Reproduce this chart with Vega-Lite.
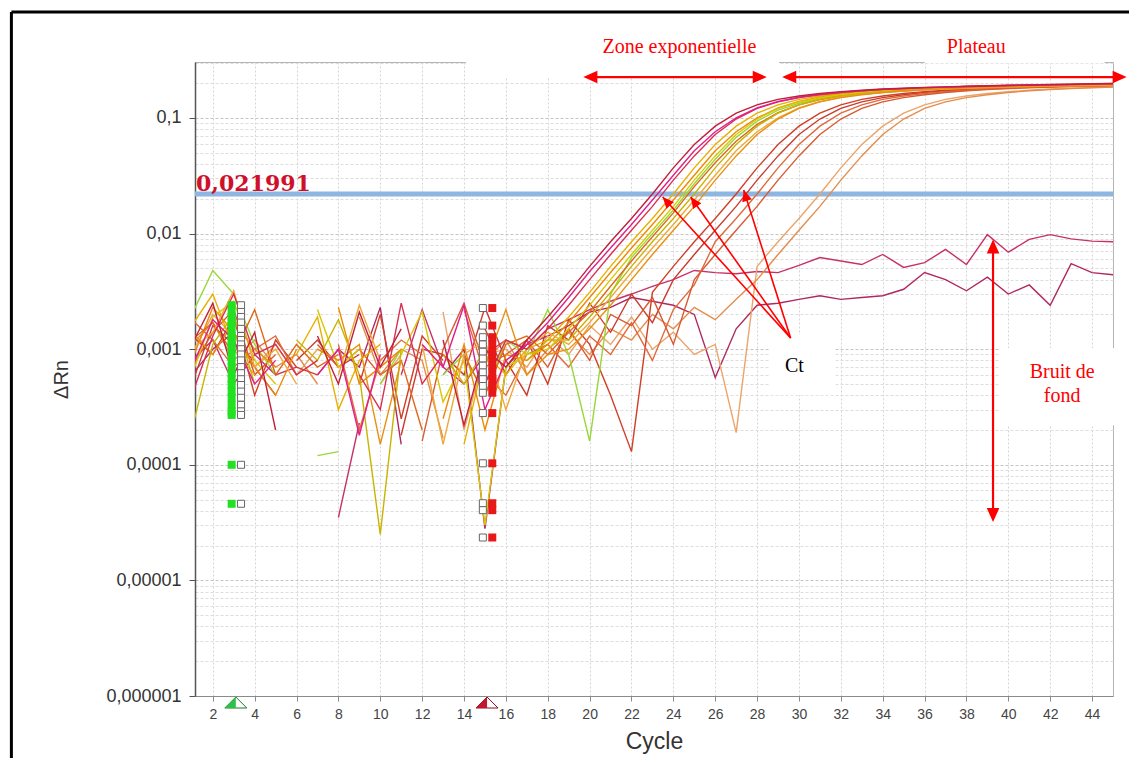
{
"$schema": "https://vega.github.io/schema/vega-lite/v6.json",
"width": 918, "height": 634,
"autosize": {"type": "none"},
"padding": {"left": 195, "top": 62, "right": 16, "bottom": 62},
"background": "white",
"config": {"view": {"stroke": "#b4b4b4", "strokeWidth": 1}, "font": "Liberation Sans"},
"datasets": {
"curves": [
{"s":"N1","c":1,"v":0.0008},{"s":"N1","c":2,"v":0.0012},{"s":"N1","c":3,"v":0.0005},{"s":"N1","c":4,"v":0.0009},{"s":"N1","c":5,"v":0.0006},{"s":"N1","c":6,"v":0.0007},{"s":"N1","c":7,"v":null},{"s":"N1","c":8,"v":0.000035},{"s":"N1","c":9,"v":0.00023},{"s":"N1","c":10,"v":null},{"s":"N1","c":11,"v":0.0006},{"s":"N1","c":12,"v":0.0022},{"s":"N1","c":13,"v":0.0007},{"s":"N1","c":14,"v":0.0005},{"s":"N1","c":15,"v":0.0009},{"s":"N1","c":16,"v":0.0012},{"s":"N1","c":17,"v":0.0010},{"s":"N1","c":18,"v":0.0015},{"s":"N1","c":19,"v":0.0018},{"s":"N1","c":20,"v":0.0022},{"s":"N1","c":21,"v":0.0026},{"s":"N1","c":22,"v":0.0030},{"s":"N1","c":23,"v":0.0035},{"s":"N1","c":24,"v":0.0040},{"s":"N1","c":25,"v":0.0048},{"s":"N1","c":26,"v":0.0046},{"s":"N1","c":27,"v":0.0045},{"s":"N1","c":28,"v":0.0047},{"s":"N1","c":29,"v":0.0046},{"s":"N1","c":30,"v":0.0053},{"s":"N1","c":31,"v":0.0062},{"s":"N1","c":32,"v":0.0058},{"s":"N1","c":33,"v":0.0054},{"s":"N1","c":34,"v":0.0066},{"s":"N1","c":35,"v":0.0051},{"s":"N1","c":36,"v":0.0056},{"s":"N1","c":37,"v":0.0073},{"s":"N1","c":38,"v":0.0054},{"s":"N1","c":39,"v":0.0098},{"s":"N1","c":40,"v":0.0069},{"s":"N1","c":41,"v":0.0089},{"s":"N1","c":42,"v":0.0098},{"s":"N1","c":43,"v":0.0090},{"s":"N1","c":44,"v":0.0086},{"s":"N1","c":45,"v":0.0085},
{"s":"N2","c":1,"v":0.0006},{"s":"N2","c":2,"v":0.0010},{"s":"N2","c":3,"v":0.0014},{"s":"N2","c":4,"v":0.0007},{"s":"N2","c":5,"v":0.0004},{"s":"N2","c":6,"v":null},{"s":"N2","c":7,"v":0.0006},{"s":"N2","c":8,"v":0.0010},{"s":"N2","c":9,"v":0.0007},{"s":"N2","c":10,"v":0.0023},{"s":"N2","c":11,"v":0.00015},{"s":"N2","c":12,"v":null},{"s":"N2","c":13,"v":0.0006},{"s":"N2","c":14,"v":0.0010},{"s":"N2","c":15,"v":0.000028},{"s":"N2","c":16,"v":0.0007},{"s":"N2","c":17,"v":0.0011},{"s":"N2","c":18,"v":0.0013},{"s":"N2","c":19,"v":0.0016},{"s":"N2","c":20,"v":0.0021},{"s":"N2","c":21,"v":0.0023},{"s":"N2","c":22,"v":0.0028},{"s":"N2","c":23,"v":0.0026},{"s":"N2","c":24,"v":0.0024},{"s":"N2","c":25,"v":0.0020},{"s":"N2","c":26,"v":0.00057},{"s":"N2","c":27,"v":0.0015},{"s":"N2","c":28,"v":0.0024},{"s":"N2","c":29,"v":0.0025},{"s":"N2","c":30,"v":0.0027},{"s":"N2","c":31,"v":0.0029},{"s":"N2","c":32,"v":0.0027},{"s":"N2","c":33,"v":0.0028},{"s":"N2","c":34,"v":0.0029},{"s":"N2","c":35,"v":0.0033},{"s":"N2","c":36,"v":0.0046},{"s":"N2","c":37,"v":0.0040},{"s":"N2","c":38,"v":0.0032},{"s":"N2","c":39,"v":0.0042},{"s":"N2","c":40,"v":0.0030},{"s":"N2","c":41,"v":0.0036},{"s":"N2","c":42,"v":0.0024},{"s":"N2","c":43,"v":0.0055},{"s":"N2","c":44,"v":0.0046},{"s":"N2","c":45,"v":0.0044},
{"s":"D1","c":1,"v":0.0009},{"s":"D1","c":2,"v":0.0020},{"s":"D1","c":3,"v":0.0013},{"s":"D1","c":4,"v":0.0007},{"s":"D1","c":5,"v":0.0011},{"s":"D1","c":6,"v":0.0006},{"s":"D1","c":7,"v":0.0010},{"s":"D1","c":8,"v":0.0008},{"s":"D1","c":9,"v":null},{"s":"D1","c":10,"v":0.0005},{"s":"D1","c":11,"v":0.0009},{"s":"D1","c":12,"v":null},{"s":"D1","c":13,"v":0.0021},{"s":"D1","c":14,"v":0.0002},{"s":"D1","c":15,"v":0.0009},{"s":"D1","c":16,"v":0.0010},{"s":"D1","c":17,"v":0.0007},{"s":"D1","c":18,"v":0.0013},{"s":"D1","c":19,"v":0.0009},{"s":"D1","c":20,"v":0.0016},{"s":"D1","c":21,"v":0.0011},{"s":"D1","c":22,"v":0.0019},{"s":"D1","c":23,"v":0.0010},{"s":"D1","c":24,"v":0.0014},{"s":"D1","c":25,"v":0.0009},{"s":"D1","c":26,"v":0.0011},{"s":"D1","c":27,"v":0.00019},{"s":"D1","c":28,"v":0.0052},{"s":"D1","c":29,"v":0.0085},{"s":"D1","c":30,"v":0.0135},{"s":"D1","c":31,"v":0.022},{"s":"D1","c":32,"v":0.037},{"s":"D1","c":33,"v":0.059},{"s":"D1","c":34,"v":0.085},{"s":"D1","c":35,"v":0.110},{"s":"D1","c":36,"v":0.130},{"s":"D1","c":37,"v":0.145},{"s":"D1","c":38,"v":0.155},{"s":"D1","c":39,"v":0.163},{"s":"D1","c":40,"v":0.169},{"s":"D1","c":41,"v":0.174},{"s":"D1","c":42,"v":0.178},{"s":"D1","c":43,"v":0.181},{"s":"D1","c":44,"v":0.184},{"s":"D1","c":45,"v":0.186},
{"s":"D2","c":1,"v":0.0011},{"s":"D2","c":2,"v":0.0017},{"s":"D2","c":3,"v":0.0008},{"s":"D2","c":4,"v":0.0012},{"s":"D2","c":5,"v":0.0007},{"s":"D2","c":6,"v":0.0009},{"s":"D2","c":7,"v":0.0005},{"s":"D2","c":8,"v":null},{"s":"D2","c":9,"v":0.0019},{"s":"D2","c":10,"v":0.0006},{"s":"D2","c":11,"v":0.0010},{"s":"D2","c":12,"v":0.0008},{"s":"D2","c":13,"v":0.00017},{"s":"D2","c":14,"v":null},{"s":"D2","c":15,"v":0.0008},{"s":"D2","c":16,"v":0.0012},{"s":"D2","c":17,"v":0.0006},{"s":"D2","c":18,"v":0.0010},{"s":"D2","c":19,"v":0.0014},{"s":"D2","c":20,"v":0.0009},{"s":"D2","c":21,"v":0.0015},{"s":"D2","c":22,"v":0.0012},{"s":"D2","c":23,"v":0.0020},{"s":"D2","c":24,"v":0.0015},{"s":"D2","c":25,"v":0.0023},{"s":"D2","c":26,"v":0.0018},{"s":"D2","c":27,"v":0.0027},{"s":"D2","c":28,"v":0.0040},{"s":"D2","c":29,"v":0.0066},{"s":"D2","c":30,"v":0.0107},{"s":"D2","c":31,"v":0.0172},{"s":"D2","c":32,"v":0.029},{"s":"D2","c":33,"v":0.047},{"s":"D2","c":34,"v":0.072},{"s":"D2","c":35,"v":0.098},{"s":"D2","c":36,"v":0.121},{"s":"D2","c":37,"v":0.138},{"s":"D2","c":38,"v":0.150},{"s":"D2","c":39,"v":0.159},{"s":"D2","c":40,"v":0.166},{"s":"D2","c":41,"v":0.172},{"s":"D2","c":42,"v":0.176},{"s":"D2","c":43,"v":0.1795},{"s":"D2","c":44,"v":0.1825},{"s":"D2","c":45,"v":0.185},
{"s":"C1","c":1,"v":0.0013},{"s":"C1","c":2,"v":0.0009},{"s":"C1","c":3,"v":0.0019},{"s":"C1","c":4,"v":0.0004},{"s":"C1","c":5,"v":0.0012},{"s":"C1","c":6,"v":0.0007},{"s":"C1","c":7,"v":0.0006},{"s":"C1","c":8,"v":null},{"s":"C1","c":9,"v":0.0005},{"s":"C1","c":10,"v":0.0020},{"s":"C1","c":11,"v":0.00025},{"s":"C1","c":12,"v":0.0013},{"s":"C1","c":13,"v":0.0008},{"s":"C1","c":14,"v":null},{"s":"C1","c":15,"v":0.0015},{"s":"C1","c":16,"v":0.0006},{"s":"C1","c":17,"v":0.0012},{"s":"C1","c":18,"v":0.0005},{"s":"C1","c":19,"v":0.0018},{"s":"C1","c":20,"v":0.0011},{"s":"C1","c":21,"v":0.0004},{"s":"C1","c":22,"v":0.00013},{"s":"C1","c":23,"v":0.0031},{"s":"C1","c":24,"v":0.0052},{"s":"C1","c":25,"v":0.0085},{"s":"C1","c":26,"v":0.0135},{"s":"C1","c":27,"v":0.022},{"s":"C1","c":28,"v":0.037},{"s":"C1","c":29,"v":0.059},{"s":"C1","c":30,"v":0.085},{"s":"C1","c":31,"v":0.110},{"s":"C1","c":32,"v":0.130},{"s":"C1","c":33,"v":0.145},{"s":"C1","c":34,"v":0.155},{"s":"C1","c":35,"v":0.163},{"s":"C1","c":36,"v":0.169},{"s":"C1","c":37,"v":0.174},{"s":"C1","c":38,"v":0.178},{"s":"C1","c":39,"v":0.181},{"s":"C1","c":40,"v":0.184},{"s":"C1","c":41,"v":0.186},{"s":"C1","c":42,"v":0.188},{"s":"C1","c":43,"v":0.190},{"s":"C1","c":44,"v":0.192},{"s":"C1","c":45,"v":0.193},
{"s":"C2","c":1,"v":0.0005},{"s":"C2","c":2,"v":0.0016},{"s":"C2","c":3,"v":0.0011},{"s":"C2","c":4,"v":0.0008},{"s":"C2","c":5,"v":null},{"s":"C2","c":6,"v":0.0008},{"s":"C2","c":7,"v":0.0012},{"s":"C2","c":8,"v":0.0007},{"s":"C2","c":9,"v":0.0009},{"s":"C2","c":10,"v":null},{"s":"C2","c":11,"v":0.00018},{"s":"C2","c":12,"v":0.0010},{"s":"C2","c":13,"v":0.0009},{"s":"C2","c":14,"v":0.0006},{"s":"C2","c":15,"v":0.0023},{"s":"C2","c":16,"v":0.0008},{"s":"C2","c":17,"v":0.0004},{"s":"C2","c":18,"v":0.0016},{"s":"C2","c":19,"v":0.0012},{"s":"C2","c":20,"v":0.0025},{"s":"C2","c":21,"v":0.0014},{"s":"C2","c":22,"v":0.0030},{"s":"C2","c":23,"v":0.0017},{"s":"C2","c":24,"v":0.0040},{"s":"C2","c":25,"v":0.0066},{"s":"C2","c":26,"v":0.0107},{"s":"C2","c":27,"v":0.0172},{"s":"C2","c":28,"v":0.029},{"s":"C2","c":29,"v":0.047},{"s":"C2","c":30,"v":0.072},{"s":"C2","c":31,"v":0.098},{"s":"C2","c":32,"v":0.121},{"s":"C2","c":33,"v":0.138},{"s":"C2","c":34,"v":0.150},{"s":"C2","c":35,"v":0.159},{"s":"C2","c":36,"v":0.166},{"s":"C2","c":37,"v":0.172},{"s":"C2","c":38,"v":0.176},{"s":"C2","c":39,"v":0.1795},{"s":"C2","c":40,"v":0.1825},{"s":"C2","c":41,"v":0.185},{"s":"C2","c":42,"v":0.187},{"s":"C2","c":43,"v":0.189},{"s":"C2","c":44,"v":0.191},{"s":"C2","c":45,"v":0.1925},
{"s":"C3","c":1,"v":0.0018},{"s":"C3","c":2,"v":0.0012},{"s":"C3","c":3,"v":0.0007},{"s":"C3","c":4,"v":0.0010},{"s":"C3","c":5,"v":0.0013},{"s":"C3","c":6,"v":0.0006},{"s":"C3","c":7,"v":null},{"s":"C3","c":8,"v":0.0011},{"s":"C3","c":9,"v":0.0002},{"s":"C3","c":10,"v":0.0008},{"s":"C3","c":11,"v":0.0012},{"s":"C3","c":12,"v":0.0009},{"s":"C3","c":13,"v":null},{"s":"C3","c":14,"v":0.0022},{"s":"C3","c":15,"v":0.0006},{"s":"C3","c":16,"v":0.0004},{"s":"C3","c":17,"v":0.0009},{"s":"C3","c":18,"v":0.0011},{"s":"C3","c":19,"v":0.0007},{"s":"C3","c":20,"v":0.0013},{"s":"C3","c":21,"v":0.0009},{"s":"C3","c":22,"v":0.0017},{"s":"C3","c":23,"v":0.0008},{"s":"C3","c":24,"v":0.0022},{"s":"C3","c":25,"v":0.0036},{"s":"C3","c":26,"v":0.0085},{"s":"C3","c":27,"v":0.0135},{"s":"C3","c":28,"v":0.022},{"s":"C3","c":29,"v":0.037},{"s":"C3","c":30,"v":0.059},{"s":"C3","c":31,"v":0.085},{"s":"C3","c":32,"v":0.110},{"s":"C3","c":33,"v":0.130},{"s":"C3","c":34,"v":0.145},{"s":"C3","c":35,"v":0.155},{"s":"C3","c":36,"v":0.163},{"s":"C3","c":37,"v":0.169},{"s":"C3","c":38,"v":0.174},{"s":"C3","c":39,"v":0.178},{"s":"C3","c":40,"v":0.181},{"s":"C3","c":41,"v":0.184},{"s":"C3","c":42,"v":0.186},{"s":"C3","c":43,"v":0.188},{"s":"C3","c":44,"v":0.190},{"s":"C3","c":45,"v":0.192},
{"s":"C4","c":1,"v":0.0007},{"s":"C4","c":2,"v":0.0014},{"s":"C4","c":3,"v":0.0022},{"s":"C4","c":4,"v":0.0006},{"s":"C4","c":5,"v":0.0009},{"s":"C4","c":6,"v":null},{"s":"C4","c":7,"v":0.0011},{"s":"C4","c":8,"v":0.0007},{"s":"C4","c":9,"v":0.0010},{"s":"C4","c":10,"v":0.0006},{"s":"C4","c":11,"v":null},{"s":"C4","c":12,"v":0.00016},{"s":"C4","c":13,"v":0.0010},{"s":"C4","c":14,"v":0.0025},{"s":"C4","c":15,"v":0.0007},{"s":"C4","c":16,"v":0.0009},{"s":"C4","c":17,"v":0.0012},{"s":"C4","c":18,"v":0.0007},{"s":"C4","c":19,"v":0.0015},{"s":"C4","c":20,"v":0.0008},{"s":"C4","c":21,"v":0.0020},{"s":"C4","c":22,"v":0.0016},{"s":"C4","c":23,"v":0.0028},{"s":"C4","c":24,"v":0.0011},{"s":"C4","c":25,"v":0.0040},{"s":"C4","c":26,"v":0.0066},{"s":"C4","c":27,"v":0.0107},{"s":"C4","c":28,"v":0.0172},{"s":"C4","c":29,"v":0.029},{"s":"C4","c":30,"v":0.047},{"s":"C4","c":31,"v":0.072},{"s":"C4","c":32,"v":0.098},{"s":"C4","c":33,"v":0.121},{"s":"C4","c":34,"v":0.138},{"s":"C4","c":35,"v":0.150},{"s":"C4","c":36,"v":0.159},{"s":"C4","c":37,"v":0.166},{"s":"C4","c":38,"v":0.172},{"s":"C4","c":39,"v":0.176},{"s":"C4","c":40,"v":0.1795},{"s":"C4","c":41,"v":0.1825},{"s":"C4","c":42,"v":0.185},{"s":"C4","c":43,"v":0.187},{"s":"C4","c":44,"v":0.189},{"s":"C4","c":45,"v":0.191},
{"s":"G1","c":1,"v":0.0020},{"s":"G1","c":2,"v":0.0048},{"s":"G1","c":3,"v":0.0030},{"s":"G1","c":4,"v":0.0011},{"s":"G1","c":5,"v":0.0006},{"s":"G1","c":6,"v":null},{"s":"G1","c":7,"v":0.00012},{"s":"G1","c":8,"v":0.00013},{"s":"G1","c":9,"v":null},{"s":"G1","c":10,"v":0.0005},{"s":"G1","c":11,"v":0.0010},{"s":"G1","c":12,"v":null},{"s":"G1","c":13,"v":0.0006},{"s":"G1","c":14,"v":0.0009},{"s":"G1","c":15,"v":0.0004},{"s":"G1","c":16,"v":0.0012},{"s":"G1","c":17,"v":0.0009},{"s":"G1","c":18,"v":0.0022},{"s":"G1","c":19,"v":0.0009},{"s":"G1","c":20,"v":0.00016},{"s":"G1","c":21,"v":0.0030},{"s":"G1","c":22,"v":0.0062},{"s":"G1","c":23,"v":0.0100},{"s":"G1","c":24,"v":0.016},{"s":"G1","c":25,"v":0.027},{"s":"G1","c":26,"v":0.044},{"s":"G1","c":27,"v":0.068},{"s":"G1","c":28,"v":0.094},{"s":"G1","c":29,"v":0.117},{"s":"G1","c":30,"v":0.134},{"s":"G1","c":31,"v":0.147},{"s":"G1","c":32,"v":0.157},{"s":"G1","c":33,"v":0.164},{"s":"G1","c":34,"v":0.170},{"s":"G1","c":35,"v":0.174},{"s":"G1","c":36,"v":0.178},{"s":"G1","c":37,"v":0.181},{"s":"G1","c":38,"v":0.183},{"s":"G1","c":39,"v":0.186},{"s":"G1","c":40,"v":0.188},{"s":"G1","c":41,"v":0.190},{"s":"G1","c":42,"v":0.191},{"s":"G1","c":43,"v":0.193},{"s":"G1","c":44,"v":0.194},{"s":"G1","c":45,"v":0.196},
{"s":"B1","c":1,"v":0.0016},{"s":"B1","c":2,"v":0.0030},{"s":"B1","c":3,"v":0.0010},{"s":"B1","c":4,"v":0.0006},{"s":"B1","c":5,"v":null},{"s":"B1","c":6,"v":0.0009},{"s":"B1","c":7,"v":0.0019},{"s":"B1","c":8,"v":0.0003},{"s":"B1","c":9,"v":0.0008},{"s":"B1","c":10,"v":0.0011},{"s":"B1","c":11,"v":null},{"s":"B1","c":12,"v":0.0010},{"s":"B1","c":13,"v":null},{"s":"B1","c":14,"v":0.00015},{"s":"B1","c":15,"v":0.0009},{"s":"B1","c":16,"v":0.0006},{"s":"B1","c":17,"v":0.0010},{"s":"B1","c":18,"v":0.0012},{"s":"B1","c":19,"v":0.0019},{"s":"B1","c":20,"v":0.0031},{"s":"B1","c":21,"v":0.0052},{"s":"B1","c":22,"v":0.0085},{"s":"B1","c":23,"v":0.0135},{"s":"B1","c":24,"v":0.022},{"s":"B1","c":25,"v":0.037},{"s":"B1","c":26,"v":0.059},{"s":"B1","c":27,"v":0.085},{"s":"B1","c":28,"v":0.110},{"s":"B1","c":29,"v":0.130},{"s":"B1","c":30,"v":0.145},{"s":"B1","c":31,"v":0.155},{"s":"B1","c":32,"v":0.163},{"s":"B1","c":33,"v":0.169},{"s":"B1","c":34,"v":0.174},{"s":"B1","c":35,"v":0.178},{"s":"B1","c":36,"v":0.181},{"s":"B1","c":37,"v":0.184},{"s":"B1","c":38,"v":0.186},{"s":"B1","c":39,"v":0.188},{"s":"B1","c":40,"v":0.190},{"s":"B1","c":41,"v":0.192},{"s":"B1","c":42,"v":0.193},{"s":"B1","c":43,"v":0.195},{"s":"B1","c":44,"v":0.196},{"s":"B1","c":45,"v":0.198},
{"s":"B2","c":1,"v":0.0008},{"s":"B2","c":2,"v":0.0023},{"s":"B2","c":3,"v":0.0014},{"s":"B2","c":4,"v":0.0007},{"s":"B2","c":5,"v":0.0004},{"s":"B2","c":6,"v":0.0010},{"s":"B2","c":7,"v":null},{"s":"B2","c":8,"v":0.0023},{"s":"B2","c":9,"v":0.0005},{"s":"B2","c":10,"v":0.0007},{"s":"B2","c":11,"v":0.0010},{"s":"B2","c":12,"v":null},{"s":"B2","c":13,"v":0.00025},{"s":"B2","c":14,"v":0.0011},{"s":"B2","c":15,"v":0.0002},{"s":"B2","c":16,"v":0.0009},{"s":"B2","c":17,"v":0.0008},{"s":"B2","c":18,"v":0.0011},{"s":"B2","c":19,"v":0.0017},{"s":"B2","c":20,"v":0.0028},{"s":"B2","c":21,"v":0.0046},{"s":"B2","c":22,"v":0.0075},{"s":"B2","c":23,"v":0.012},{"s":"B2","c":24,"v":0.0195},{"s":"B2","c":25,"v":0.032},{"s":"B2","c":26,"v":0.052},{"s":"B2","c":27,"v":0.076},{"s":"B2","c":28,"v":0.100},{"s":"B2","c":29,"v":0.122},{"s":"B2","c":30,"v":0.139},{"s":"B2","c":31,"v":0.151},{"s":"B2","c":32,"v":0.160},{"s":"B2","c":33,"v":0.166},{"s":"B2","c":34,"v":0.171},{"s":"B2","c":35,"v":0.175},{"s":"B2","c":36,"v":0.178},{"s":"B2","c":37,"v":0.181},{"s":"B2","c":38,"v":0.183},{"s":"B2","c":39,"v":0.185},{"s":"B2","c":40,"v":0.187},{"s":"B2","c":41,"v":0.189},{"s":"B2","c":42,"v":0.190},{"s":"B2","c":43,"v":0.191},{"s":"B2","c":44,"v":0.193},{"s":"B2","c":45,"v":0.194},
{"s":"B3","c":1,"v":0.0006},{"s":"B3","c":2,"v":0.0019},{"s":"B3","c":3,"v":0.0026},{"s":"B3","c":4,"v":0.0008},{"s":"B3","c":5,"v":0.0005},{"s":"B3","c":6,"v":null},{"s":"B3","c":7,"v":0.0022},{"s":"B3","c":8,"v":0.0007},{"s":"B3","c":9,"v":0.0010},{"s":"B3","c":10,"v":null},{"s":"B3","c":11,"v":0.0009},{"s":"B3","c":12,"v":0.0021},{"s":"B3","c":13,"v":0.00035},{"s":"B3","c":14,"v":0.0008},{"s":"B3","c":15,"v":0.00003},{"s":"B3","c":16,"v":0.0007},{"s":"B3","c":17,"v":0.0009},{"s":"B3","c":18,"v":0.0010},{"s":"B3","c":19,"v":0.0015},{"s":"B3","c":20,"v":0.0024},{"s":"B3","c":21,"v":0.0040},{"s":"B3","c":22,"v":0.0066},{"s":"B3","c":23,"v":0.0107},{"s":"B3","c":24,"v":0.0172},{"s":"B3","c":25,"v":0.029},{"s":"B3","c":26,"v":0.047},{"s":"B3","c":27,"v":0.072},{"s":"B3","c":28,"v":0.098},{"s":"B3","c":29,"v":0.121},{"s":"B3","c":30,"v":0.138},{"s":"B3","c":31,"v":0.150},{"s":"B3","c":32,"v":0.159},{"s":"B3","c":33,"v":0.166},{"s":"B3","c":34,"v":0.172},{"s":"B3","c":35,"v":0.176},{"s":"B3","c":36,"v":0.1795},{"s":"B3","c":37,"v":0.1825},{"s":"B3","c":38,"v":0.185},{"s":"B3","c":39,"v":0.187},{"s":"B3","c":40,"v":0.189},{"s":"B3","c":41,"v":0.191},{"s":"B3","c":42,"v":0.1925},{"s":"B3","c":43,"v":0.194},{"s":"B3","c":44,"v":0.1955},{"s":"B3","c":45,"v":0.197},
{"s":"B4","c":1,"v":0.0012},{"s":"B4","c":2,"v":0.0017},{"s":"B4","c":3,"v":0.0009},{"s":"B4","c":4,"v":0.0022},{"s":"B4","c":5,"v":0.0006},{"s":"B4","c":6,"v":0.0011},{"s":"B4","c":7,"v":0.0007},{"s":"B4","c":8,"v":0.0009},{"s":"B4","c":9,"v":null},{"s":"B4","c":10,"v":0.0006},{"s":"B4","c":11,"v":0.0008},{"s":"B4","c":12,"v":0.0002},{"s":"B4","c":13,"v":null},{"s":"B4","c":14,"v":0.0009},{"s":"B4","c":15,"v":0.0004},{"s":"B4","c":16,"v":0.0011},{"s":"B4","c":17,"v":0.0013},{"s":"B4","c":18,"v":0.0009},{"s":"B4","c":19,"v":0.0014},{"s":"B4","c":20,"v":0.0021},{"s":"B4","c":21,"v":0.0035},{"s":"B4","c":22,"v":0.0058},{"s":"B4","c":23,"v":0.0094},{"s":"B4","c":24,"v":0.0151},{"s":"B4","c":25,"v":0.0255},{"s":"B4","c":26,"v":0.041},{"s":"B4","c":27,"v":0.063},{"s":"B4","c":28,"v":0.088},{"s":"B4","c":29,"v":0.111},{"s":"B4","c":30,"v":0.130},{"s":"B4","c":31,"v":0.144},{"s":"B4","c":32,"v":0.154},{"s":"B4","c":33,"v":0.161},{"s":"B4","c":34,"v":0.167},{"s":"B4","c":35,"v":0.171},{"s":"B4","c":36,"v":0.175},{"s":"B4","c":37,"v":0.178},{"s":"B4","c":38,"v":0.180},{"s":"B4","c":39,"v":0.182},{"s":"B4","c":40,"v":0.184},{"s":"B4","c":41,"v":0.186},{"s":"B4","c":42,"v":0.187},{"s":"B4","c":43,"v":0.189},{"s":"B4","c":44,"v":0.190},{"s":"B4","c":45,"v":0.191},
{"s":"B5","c":1,"v":0.0002},{"s":"B5","c":2,"v":0.0011},{"s":"B5","c":3,"v":0.0020},{"s":"B5","c":4,"v":0.0005},{"s":"B5","c":5,"v":null},{"s":"B5","c":6,"v":0.0012},{"s":"B5","c":7,"v":0.0008},{"s":"B5","c":8,"v":0.0018},{"s":"B5","c":9,"v":0.0006},{"s":"B5","c":10,"v":0.000025},{"s":"B5","c":11,"v":0.0010},{"s":"B5","c":12,"v":null},{"s":"B5","c":13,"v":0.0009},{"s":"B5","c":14,"v":0.0005},{"s":"B5","c":15,"v":0.0010},{"s":"B5","c":16,"v":null},{"s":"B5","c":17,"v":0.0008},{"s":"B5","c":18,"v":0.0012},{"s":"B5","c":19,"v":0.0012},{"s":"B5","c":20,"v":0.0019},{"s":"B5","c":21,"v":0.0031},{"s":"B5","c":22,"v":0.0052},{"s":"B5","c":23,"v":0.0085},{"s":"B5","c":24,"v":0.0135},{"s":"B5","c":25,"v":0.022},{"s":"B5","c":26,"v":0.037},{"s":"B5","c":27,"v":0.059},{"s":"B5","c":28,"v":0.085},{"s":"B5","c":29,"v":0.110},{"s":"B5","c":30,"v":0.130},{"s":"B5","c":31,"v":0.145},{"s":"B5","c":32,"v":0.155},{"s":"B5","c":33,"v":0.163},{"s":"B5","c":34,"v":0.169},{"s":"B5","c":35,"v":0.174},{"s":"B5","c":36,"v":0.178},{"s":"B5","c":37,"v":0.181},{"s":"B5","c":38,"v":0.184},{"s":"B5","c":39,"v":0.186},{"s":"B5","c":40,"v":0.188},{"s":"B5","c":41,"v":0.190},{"s":"B5","c":42,"v":0.192},{"s":"B5","c":43,"v":0.193},{"s":"B5","c":44,"v":0.195},{"s":"B5","c":45,"v":0.196},
{"s":"B6","c":1,"v":0.0010},{"s":"B6","c":2,"v":0.0014},{"s":"B6","c":3,"v":0.0032},{"s":"B6","c":4,"v":0.0007},{"s":"B6","c":5,"v":0.0010},{"s":"B6","c":6,"v":0.0005},{"s":"B6","c":7,"v":null},{"s":"B6","c":8,"v":0.0006},{"s":"B6","c":9,"v":0.0024},{"s":"B6","c":10,"v":0.0008},{"s":"B6","c":11,"v":null},{"s":"B6","c":12,"v":0.0011},{"s":"B6","c":13,"v":0.00015},{"s":"B6","c":14,"v":0.0009},{"s":"B6","c":15,"v":0.0012},{"s":"B6","c":16,"v":0.0003},{"s":"B6","c":17,"v":0.0010},{"s":"B6","c":18,"v":0.0014},{"s":"B6","c":19,"v":0.0011},{"s":"B6","c":20,"v":0.0017},{"s":"B6","c":21,"v":0.0028},{"s":"B6","c":22,"v":0.0046},{"s":"B6","c":23,"v":0.0075},{"s":"B6","c":24,"v":0.012},{"s":"B6","c":25,"v":0.0195},{"s":"B6","c":26,"v":0.032},{"s":"B6","c":27,"v":0.052},{"s":"B6","c":28,"v":0.076},{"s":"B6","c":29,"v":0.100},{"s":"B6","c":30,"v":0.122},{"s":"B6","c":31,"v":0.139},{"s":"B6","c":32,"v":0.151},{"s":"B6","c":33,"v":0.160},{"s":"B6","c":34,"v":0.166},{"s":"B6","c":35,"v":0.171},{"s":"B6","c":36,"v":0.175},{"s":"B6","c":37,"v":0.178},{"s":"B6","c":38,"v":0.181},{"s":"B6","c":39,"v":0.183},{"s":"B6","c":40,"v":0.185},{"s":"B6","c":41,"v":0.187},{"s":"B6","c":42,"v":0.189},{"s":"B6","c":43,"v":0.190},{"s":"B6","c":44,"v":0.191},{"s":"B6","c":45,"v":0.193},
{"s":"B7","c":1,"v":0.0014},{"s":"B7","c":2,"v":0.0009},{"s":"B7","c":3,"v":0.0017},{"s":"B7","c":4,"v":0.0010},{"s":"B7","c":5,"v":0.0007},{"s":"B7","c":6,"v":null},{"s":"B7","c":7,"v":0.0010},{"s":"B7","c":8,"v":0.0008},{"s":"B7","c":9,"v":0.0011},{"s":"B7","c":10,"v":0.00015},{"s":"B7","c":11,"v":0.0008},{"s":"B7","c":12,"v":null},{"s":"B7","c":13,"v":0.0006},{"s":"B7","c":14,"v":null},{"s":"B7","c":15,"v":0.0007},{"s":"B7","c":16,"v":0.0022},{"s":"B7","c":17,"v":0.0006},{"s":"B7","c":18,"v":0.0009},{"s":"B7","c":19,"v":0.0010},{"s":"B7","c":20,"v":0.0015},{"s":"B7","c":21,"v":0.0024},{"s":"B7","c":22,"v":0.0040},{"s":"B7","c":23,"v":0.0066},{"s":"B7","c":24,"v":0.0107},{"s":"B7","c":25,"v":0.0172},{"s":"B7","c":26,"v":0.029},{"s":"B7","c":27,"v":0.047},{"s":"B7","c":28,"v":0.072},{"s":"B7","c":29,"v":0.098},{"s":"B7","c":30,"v":0.121},{"s":"B7","c":31,"v":0.138},{"s":"B7","c":32,"v":0.150},{"s":"B7","c":33,"v":0.159},{"s":"B7","c":34,"v":0.166},{"s":"B7","c":35,"v":0.172},{"s":"B7","c":36,"v":0.176},{"s":"B7","c":37,"v":0.1795},{"s":"B7","c":38,"v":0.1825},{"s":"B7","c":39,"v":0.185},{"s":"B7","c":40,"v":0.187},{"s":"B7","c":41,"v":0.189},{"s":"B7","c":42,"v":0.191},{"s":"B7","c":43,"v":0.1925},{"s":"B7","c":44,"v":0.194},{"s":"B7","c":45,"v":0.1955},
{"s":"A3","c":1,"v":0.0004},{"s":"A3","c":2,"v":0.0013},{"s":"A3","c":3,"v":0.0030},{"s":"A3","c":4,"v":0.0009},{"s":"A3","c":5,"v":0.0011},{"s":"A3","c":6,"v":0.0006},{"s":"A3","c":7,"v":0.0008},{"s":"A3","c":8,"v":null},{"s":"A3","c":9,"v":0.0006},{"s":"A3","c":10,"v":0.0003},{"s":"A3","c":11,"v":0.0025},{"s":"A3","c":12,"v":0.0005},{"s":"A3","c":13,"v":0.0009},{"s":"A3","c":14,"v":null},{"s":"A3","c":15,"v":0.0005},{"s":"A3","c":16,"v":0.0012},{"s":"A3","c":17,"v":0.0010},{"s":"A3","c":18,"v":0.0015},{"s":"A3","c":19,"v":0.0024},{"s":"A3","c":20,"v":0.0040},{"s":"A3","c":21,"v":0.0066},{"s":"A3","c":22,"v":0.0107},{"s":"A3","c":23,"v":0.0172},{"s":"A3","c":24,"v":0.029},{"s":"A3","c":25,"v":0.047},{"s":"A3","c":26,"v":0.072},{"s":"A3","c":27,"v":0.098},{"s":"A3","c":28,"v":0.121},{"s":"A3","c":29,"v":0.138},{"s":"A3","c":30,"v":0.150},{"s":"A3","c":31,"v":0.159},{"s":"A3","c":32,"v":0.166},{"s":"A3","c":33,"v":0.172},{"s":"A3","c":34,"v":0.176},{"s":"A3","c":35,"v":0.1795},{"s":"A3","c":36,"v":0.1825},{"s":"A3","c":37,"v":0.185},{"s":"A3","c":38,"v":0.187},{"s":"A3","c":39,"v":0.189},{"s":"A3","c":40,"v":0.191},{"s":"A3","c":41,"v":0.1925},{"s":"A3","c":42,"v":0.194},{"s":"A3","c":43,"v":0.1955},{"s":"A3","c":44,"v":0.197},{"s":"A3","c":45,"v":0.1985},
{"s":"A2","c":1,"v":0.0007},{"s":"A2","c":2,"v":0.0018},{"s":"A2","c":3,"v":0.0012},{"s":"A2","c":4,"v":0.0005},{"s":"A2","c":5,"v":0.0008},{"s":"A2","c":6,"v":null},{"s":"A2","c":7,"v":0.0006},{"s":"A2","c":8,"v":0.0010},{"s":"A2","c":9,"v":0.00018},{"s":"A2","c":10,"v":0.0009},{"s":"A2","c":11,"v":null},{"s":"A2","c":12,"v":0.0011},{"s":"A2","c":13,"v":0.0007},{"s":"A2","c":14,"v":0.0024},{"s":"A2","c":15,"v":0.0003},{"s":"A2","c":16,"v":0.0008},{"s":"A2","c":17,"v":0.0011},{"s":"A2","c":18,"v":0.0017},{"s":"A2","c":19,"v":0.0028},{"s":"A2","c":20,"v":0.0047},{"s":"A2","c":21,"v":0.0075},{"s":"A2","c":22,"v":0.012},{"s":"A2","c":23,"v":0.0195},{"s":"A2","c":24,"v":0.032},{"s":"A2","c":25,"v":0.052},{"s":"A2","c":26,"v":0.076},{"s":"A2","c":27,"v":0.100},{"s":"A2","c":28,"v":0.122},{"s":"A2","c":29,"v":0.139},{"s":"A2","c":30,"v":0.151},{"s":"A2","c":31,"v":0.160},{"s":"A2","c":32,"v":0.167},{"s":"A2","c":33,"v":0.172},{"s":"A2","c":34,"v":0.177},{"s":"A2","c":35,"v":0.180},{"s":"A2","c":36,"v":0.183},{"s":"A2","c":37,"v":0.185},{"s":"A2","c":38,"v":0.187},{"s":"A2","c":39,"v":0.189},{"s":"A2","c":40,"v":0.191},{"s":"A2","c":41,"v":0.193},{"s":"A2","c":42,"v":0.194},{"s":"A2","c":43,"v":0.195},{"s":"A2","c":44,"v":0.197},{"s":"A2","c":45,"v":0.198},
{"s":"A1","c":1,"v":0.0011},{"s":"A1","c":2,"v":0.0025},{"s":"A1","c":3,"v":0.0006},{"s":"A1","c":4,"v":0.0014},{"s":"A1","c":5,"v":0.0002},{"s":"A1","c":6,"v":null},{"s":"A1","c":7,"v":0.0013},{"s":"A1","c":8,"v":0.0005},{"s":"A1","c":9,"v":0.0021},{"s":"A1","c":10,"v":0.0007},{"s":"A1","c":11,"v":0.0015},{"s":"A1","c":12,"v":null},{"s":"A1","c":13,"v":0.0012},{"s":"A1","c":14,"v":0.00022},{"s":"A1","c":15,"v":0.0010},{"s":"A1","c":16,"v":0.0007},{"s":"A1","c":17,"v":0.0012},{"s":"A1","c":18,"v":0.0019},{"s":"A1","c":19,"v":0.0031},{"s":"A1","c":20,"v":0.0052},{"s":"A1","c":21,"v":0.0085},{"s":"A1","c":22,"v":0.0135},{"s":"A1","c":23,"v":0.022},{"s":"A1","c":24,"v":0.037},{"s":"A1","c":25,"v":0.059},{"s":"A1","c":26,"v":0.085},{"s":"A1","c":27,"v":0.110},{"s":"A1","c":28,"v":0.130},{"s":"A1","c":29,"v":0.145},{"s":"A1","c":30,"v":0.155},{"s":"A1","c":31,"v":0.163},{"s":"A1","c":32,"v":0.169},{"s":"A1","c":33,"v":0.174},{"s":"A1","c":34,"v":0.178},{"s":"A1","c":35,"v":0.181},{"s":"A1","c":36,"v":0.184},{"s":"A1","c":37,"v":0.186},{"s":"A1","c":38,"v":0.188},{"s":"A1","c":39,"v":0.190},{"s":"A1","c":40,"v":0.192},{"s":"A1","c":41,"v":0.193},{"s":"A1","c":42,"v":0.195},{"s":"A1","c":43,"v":0.196},{"s":"A1","c":44,"v":0.198},{"s":"A1","c":45,"v":0.199}
],
"squares": [
{"k":"gf","c":2.9,"v":0.0024},{"k":"gf","c":2.9,"v":0.0021},{"k":"gf","c":2.9,"v":0.0019},{"k":"gf","c":2.9,"v":0.0017},{"k":"gf","c":2.9,"v":0.0015},{"k":"gf","c":2.9,"v":0.0013},{"k":"gf","c":2.9,"v":0.0012},{"k":"gf","c":2.9,"v":0.0011},{"k":"gf","c":2.9,"v":0.001},{"k":"gf","c":2.9,"v":0.0009},{"k":"gf","c":2.9,"v":0.0008},{"k":"gf","c":2.9,"v":0.0007},{"k":"gf","c":2.9,"v":0.00062},{"k":"gf","c":2.9,"v":0.00055},{"k":"gf","c":2.9,"v":0.00049},{"k":"gf","c":2.9,"v":0.00043},{"k":"gf","c":2.9,"v":0.00038},{"k":"gf","c":2.9,"v":0.00033},{"k":"gf","c":2.9,"v":0.00029},{"k":"gf","c":2.9,"v":0.00027},{"k":"gf","c":2.9,"v":0.0001},{"k":"gf","c":2.9,"v":0.000046},
{"k":"gh","c":3.35,"v":0.0024},{"k":"gh","c":3.35,"v":0.0021},{"k":"gh","c":3.35,"v":0.0019},{"k":"gh","c":3.35,"v":0.0017},{"k":"gh","c":3.35,"v":0.0015},{"k":"gh","c":3.35,"v":0.0013},{"k":"gh","c":3.35,"v":0.0012},{"k":"gh","c":3.35,"v":0.0011},{"k":"gh","c":3.35,"v":0.001},{"k":"gh","c":3.35,"v":0.0009},{"k":"gh","c":3.35,"v":0.0008},{"k":"gh","c":3.35,"v":0.0007},{"k":"gh","c":3.35,"v":0.00062},{"k":"gh","c":3.35,"v":0.00055},{"k":"gh","c":3.35,"v":0.00049},{"k":"gh","c":3.35,"v":0.00043},{"k":"gh","c":3.35,"v":0.00038},{"k":"gh","c":3.35,"v":0.00033},{"k":"gh","c":3.35,"v":0.00029},{"k":"gh","c":3.35,"v":0.00027},{"k":"gh","c":3.35,"v":0.0001},{"k":"gh","c":3.35,"v":0.000046},
{"k":"rf","c":15.35,"v":0.00227},{"k":"rf","c":15.35,"v":0.0016},{"k":"rf","c":15.35,"v":0.00127},{"k":"rf","c":15.35,"v":0.0011},{"k":"rf","c":15.35,"v":0.00095},{"k":"rf","c":15.35,"v":0.00083},{"k":"rf","c":15.35,"v":0.00072},{"k":"rf","c":15.35,"v":0.00063},{"k":"rf","c":15.35,"v":0.00055},{"k":"rf","c":15.35,"v":0.00048},{"k":"rf","c":15.35,"v":0.00042},{"k":"rf","c":15.35,"v":0.00028},{"k":"rf","c":15.35,"v":0.000103},{"k":"rf","c":15.35,"v":0.0000465},{"k":"rf","c":15.35,"v":0.0000405},{"k":"rf","c":15.35,"v":0.0000235},
{"k":"rh","c":14.9,"v":0.00227},{"k":"rh","c":14.9,"v":0.0016},{"k":"rh","c":14.9,"v":0.00127},{"k":"rh","c":14.9,"v":0.0011},{"k":"rh","c":14.9,"v":0.00095},{"k":"rh","c":14.9,"v":0.00083},{"k":"rh","c":14.9,"v":0.00072},{"k":"rh","c":14.9,"v":0.00063},{"k":"rh","c":14.9,"v":0.00055},{"k":"rh","c":14.9,"v":0.00048},{"k":"rh","c":14.9,"v":0.00042},{"k":"rh","c":14.9,"v":0.00028},{"k":"rh","c":14.9,"v":0.000103},{"k":"rh","c":14.9,"v":0.0000465},{"k":"rh","c":14.9,"v":0.0000405},{"k":"rh","c":14.9,"v":0.0000235}
],
"boxes": [
{"c":14.1,"c2":29.05,"v":0.222,"v2":0.6},
{"c":36.0,"c2":44.6,"v":0.298,"v2":0.6},
{"c":28.6,"c2":31.75,"v":0.0004,"v2":0.00133},
{"c":39.6,"c2":46.5,"v":0.00022,"v2":0.00102}
],
"shafts": [
{"c":19.9,"v":0.226,"c2":28.3,"v2":0.226},
{"c":29.35,"v":0.226,"c2":45.5,"v2":0.226},
{"c":39.27,"v":0.0085,"c2":39.27,"v2":0.000034}
],
"ctshafts": [
{"c":29.6,"v":0.00125,"c2":23.49,"v2":0.0207},
{"c":29.6,"v":0.00125,"c2":24.83,"v2":0.0207},
{"c":29.6,"v":0.00125,"c2":27.36,"v2":0.0238}
]
},
"layer": [
{
"data": {"values": [{"v": 0.021991}]},
"mark": {"type": "rule", "color": "#8db6e2", "strokeWidth": 5},
"encoding": {"y": {"field": "v", "type": "quantitative", "scale": {"type": "log", "domain": [0.000001, 0.305]}}}
},
{
"data": {"name": "curves"},
"mark": {"type": "line", "strokeWidth": 1.4, "clip": true, "invalid": "break-paths-show-domains"},
"encoding": {
"x": {"field": "c", "type": "quantitative", "scale": {"domain": [1.15, 45.0]},
"axis": {"title": "Cycle", "values": [2,4,6,8,10,12,14,16,18,20,22,24,26,28,30,32,34,36,38,40,42,44],
"grid": true, "gridColor": "#d4d4d4", "gridDash": [2, 2], "domainColor": "#8a8a8a", "tickColor": "#8a8a8a", "tickSize": 5,
"labelFontSize": 14, "labelColor": "#444", "labelPadding": 6, "labelFont": "Liberation Sans",
"titleFontSize": 23, "titleFontWeight": "normal", "titleColor": "#333", "titlePadding": 9, "titleFont": "Liberation Sans"}},
"y": {"field": "v", "type": "quantitative", "scale": {"type": "log", "domain": [0.000001, 0.305]},
"axis": {"title": "ΔRn",
"values": [0.000001,0.000002,0.000003,0.000004,0.000005,0.000006,0.000007,0.000008,0.000009,0.00001,0.00002,0.00003,0.00004,0.00005,0.00006,0.00007,0.00008,0.00009,0.0001,0.0002,0.0003,0.0004,0.0005,0.0006,0.0007,0.0008,0.0009,0.001,0.002,0.003,0.004,0.005,0.006,0.007,0.008,0.009,0.01,0.02,0.03,0.04,0.05,0.06,0.07,0.08,0.09,0.1,0.2,0.3],
"labelExpr": "abs(log(datum.value)/LN10 - round(log(datum.value)/LN10)) < 0.001 ? replace(format(datum.value, '.6~f'), '.', ',') : ''",
"grid": true,
"gridColor": {"condition": {"test": "abs(log(datum.value)/LN10 - round(log(datum.value)/LN10)) < 0.001", "value": "#c4c4c4"}, "value": "#dddddd"},
"gridDash": [3, 2],
"tickOpacity": {"condition": {"test": "abs(log(datum.value)/LN10 - round(log(datum.value)/LN10)) < 0.001", "value": 1}, "value": 0},
"tickColor": "#555", "tickSize": 6, "domainColor": "#555", "domainWidth": 1.5,
"labelFontSize": 18, "labelColor": "#333", "labelPadding": 8, "labelFont": "Liberation Sans",
"titleFontSize": 20, "titleFontWeight": "normal", "titleColor": "#333", "titlePadding": 34, "titleFont": "Liberation Sans"}},
"color": {"field": "s", "type": "nominal", "legend": null,
"scale": {"domain": ["A1","A2","A3","B1","B2","B3","B4","B5","B6","B7","G1","C1","C2","C3","C4","D1","D2","N1","N2"],
"range": ["#c0203c","#e0208c","#d83050","#e8b000","#f08800","#d8c800","#e06818","#c8b400","#f0a838","#e89010","#98d838","#d04028","#c83c30","#e06a3c","#d85a30","#eca468","#e48c4c","#c8306a","#b02860"]}}
}
},
{
"data": {"name": "squares"},
"transform": [{"filter": "datum.k == 'gh' || datum.k == 'rh'"}],
"mark": {"type": "point", "shape": "square", "filled": true, "fill": "#ffffff", "stroke": "#666666", "strokeWidth": 1, "size": 49, "opacity": 1},
"encoding": {"x": {"field": "c", "type": "quantitative", "scale": {"domain": [1.15, 45.0]}}, "y": {"field": "v", "type": "quantitative", "scale": {"type": "log", "domain": [0.000001, 0.305]}}}
},
{
"data": {"name": "squares"},
"transform": [{"filter": "datum.k == 'gf'"}],
"mark": {"type": "point", "shape": "square", "filled": true, "color": "#22e022", "size": 64, "opacity": 1},
"encoding": {"x": {"field": "c", "type": "quantitative", "scale": {"domain": [1.15, 45.0]}}, "y": {"field": "v", "type": "quantitative", "scale": {"type": "log", "domain": [0.000001, 0.305]}}}
},
{
"data": {"name": "squares"},
"transform": [{"filter": "datum.k == 'rf'"}],
"mark": {"type": "point", "shape": "square", "filled": true, "color": "#e81818", "size": 64, "opacity": 1},
"encoding": {"x": {"field": "c", "type": "quantitative", "scale": {"domain": [1.15, 45.0]}}, "y": {"field": "v", "type": "quantitative", "scale": {"type": "log", "domain": [0.000001, 0.305]}}}
},
{
"data": {"values": [{"c": 3.1, "v": 0.000001}]},
"mark": {"type": "point", "shape": "M0,-0.5L1,0.5L-1,0.5Z", "filled": true, "fill": "#ffffff", "stroke": "#1c7a2a", "strokeWidth": 1, "size": 484, "opacity": 1, "yOffset": 6.5, "clip": false},
"encoding": {"x": {"field": "c", "type": "quantitative", "scale": {"domain": [1.15, 45.0]}}, "y": {"field": "v", "type": "quantitative", "scale": {"type": "log", "domain": [0.000001, 0.305]}}}
},
{
"data": {"values": [{"c": 3.1, "v": 0.000001}]},
"mark": {"type": "point", "shape": "M0,-0.5L0,0.5L-1,0.5Z", "filled": true, "fill": "#2ec048", "size": 484, "opacity": 1, "yOffset": 6.5, "clip": false},
"encoding": {"x": {"field": "c", "type": "quantitative", "scale": {"domain": [1.15, 45.0]}}, "y": {"field": "v", "type": "quantitative", "scale": {"type": "log", "domain": [0.000001, 0.305]}}}
},
{
"data": {"values": [{"c": 15.1, "v": 0.000001}]},
"mark": {"type": "point", "shape": "M0,-0.5L1,0.5L-1,0.5Z", "filled": true, "fill": "#ffffff", "stroke": "#8a1020", "strokeWidth": 1, "size": 484, "opacity": 1, "yOffset": 6.5, "clip": false},
"encoding": {"x": {"field": "c", "type": "quantitative", "scale": {"domain": [1.15, 45.0]}}, "y": {"field": "v", "type": "quantitative", "scale": {"type": "log", "domain": [0.000001, 0.305]}}}
},
{
"data": {"values": [{"c": 15.1, "v": 0.000001}]},
"mark": {"type": "point", "shape": "M0,-0.5L0,0.5L-1,0.5Z", "filled": true, "fill": "#c0182c", "size": 484, "opacity": 1, "yOffset": 6.5, "clip": false},
"encoding": {"x": {"field": "c", "type": "quantitative", "scale": {"domain": [1.15, 45.0]}}, "y": {"field": "v", "type": "quantitative", "scale": {"type": "log", "domain": [0.000001, 0.305]}}}
},
{
"data": {"name": "boxes"},
"mark": {"type": "rect", "fill": "#ffffff", "clip": false},
"encoding": {"x": {"field": "c", "type": "quantitative", "scale": {"domain": [1.15, 45.0]}}, "x2": {"field": "c2"}, "y": {"field": "v", "type": "quantitative", "scale": {"type": "log", "domain": [0.000001, 0.305]}}, "y2": {"field": "v2"}}
},
{
"data": {"name": "shafts"},
"mark": {"type": "rule", "color": "#ff0000", "strokeWidth": 2.2, "clip": false},
"encoding": {"x": {"field": "c", "type": "quantitative", "scale": {"domain": [1.15, 45.0]}}, "x2": {"field": "c2"}, "y": {"field": "v", "type": "quantitative", "scale": {"type": "log", "domain": [0.000001, 0.305]}}, "y2": {"field": "v2"}}
},
{
"data": {"name": "ctshafts"},
"mark": {"type": "rule", "color": "#ff0000", "strokeWidth": 1.6, "clip": false},
"encoding": {"x": {"field": "c", "type": "quantitative", "scale": {"domain": [1.15, 45.0]}}, "x2": {"field": "c2"}, "y": {"field": "v", "type": "quantitative", "scale": {"type": "log", "domain": [0.000001, 0.305]}}, "y2": {"field": "v2"}}
},
{
"data": {"values": [{"c": 19.7, "v": 0.226}, {"c": 29.2, "v": 0.226}]},
"mark": {"type": "point", "shape": "M0,0L-0.45,1L0.45,1Z", "filled": true, "color": "#ff0000", "size": 784, "opacity": 1, "angle": 270, "clip": false},
"encoding": {"x": {"field": "c", "type": "quantitative", "scale": {"domain": [1.15, 45.0]}}, "y": {"field": "v", "type": "quantitative", "scale": {"type": "log", "domain": [0.000001, 0.305]}}}
},
{
"data": {"values": [{"c": 28.46, "v": 0.226}, {"c": 45.65, "v": 0.226}]},
"mark": {"type": "point", "shape": "M0,0L-0.45,1L0.45,1Z", "filled": true, "color": "#ff0000", "size": 784, "opacity": 1, "angle": 90, "clip": false},
"encoding": {"x": {"field": "c", "type": "quantitative", "scale": {"domain": [1.15, 45.0]}}, "y": {"field": "v", "type": "quantitative", "scale": {"type": "log", "domain": [0.000001, 0.305]}}}
},
{
"data": {"values": [{"c": 39.27, "v": 0.0089}]},
"mark": {"type": "point", "shape": "M0,0L-0.45,1L0.45,1Z", "filled": true, "color": "#ff0000", "size": 784, "opacity": 1, "angle": 0, "clip": false},
"encoding": {"x": {"field": "c", "type": "quantitative", "scale": {"domain": [1.15, 45.0]}}, "y": {"field": "v", "type": "quantitative", "scale": {"type": "log", "domain": [0.000001, 0.305]}}}
},
{
"data": {"values": [{"c": 39.27, "v": 0.000032}]},
"mark": {"type": "point", "shape": "M0,0L-0.45,1L0.45,1Z", "filled": true, "color": "#ff0000", "size": 784, "opacity": 1, "angle": 180, "clip": false},
"encoding": {"x": {"field": "c", "type": "quantitative", "scale": {"domain": [1.15, 45.0]}}, "y": {"field": "v", "type": "quantitative", "scale": {"type": "log", "domain": [0.000001, 0.305]}}}
},
{
"data": {"values": [{"c": 23.49, "v": 0.0207}]},
"mark": {"type": "point", "shape": "M0,0L-0.45,1L0.45,1Z", "filled": true, "color": "#ff0000", "size": 500, "opacity": 1, "angle": 317.8, "clip": false},
"encoding": {"x": {"field": "c", "type": "quantitative", "scale": {"domain": [1.15, 45.0]}}, "y": {"field": "v", "type": "quantitative", "scale": {"type": "log", "domain": [0.000001, 0.305]}}}
},
{
"data": {"values": [{"c": 24.83, "v": 0.0207}]},
"mark": {"type": "point", "shape": "M0,0L-0.45,1L0.45,1Z", "filled": true, "color": "#ff0000", "size": 500, "opacity": 1, "angle": 324.7, "clip": false},
"encoding": {"x": {"field": "c", "type": "quantitative", "scale": {"domain": [1.15, 45.0]}}, "y": {"field": "v", "type": "quantitative", "scale": {"type": "log", "domain": [0.000001, 0.305]}}}
},
{
"data": {"values": [{"c": 27.36, "v": 0.0238}]},
"mark": {"type": "point", "shape": "M0,0L-0.45,1L0.45,1Z", "filled": true, "color": "#ff0000", "size": 500, "opacity": 1, "angle": 342.5, "clip": false},
"encoding": {"x": {"field": "c", "type": "quantitative", "scale": {"domain": [1.15, 45.0]}}, "y": {"field": "v", "type": "quantitative", "scale": {"type": "log", "domain": [0.000001, 0.305]}}}
},
{
"data": {"values": [{"c": 24.29, "v": 0.411, "t": "Zone exponentielle"}, {"c": 38.47, "v": 0.411, "t": "Plateau"}, {"c": 42.57, "v": 0.000635, "t": "Bruit de"}, {"c": 42.57, "v": 0.000394, "t": "fond"}]},
"mark": {"type": "text", "font": "Liberation Serif", "fontSize": 20, "color": "#ff0000", "align": "center", "baseline": "middle", "clip": false},
"encoding": {"x": {"field": "c", "type": "quantitative", "scale": {"domain": [1.15, 45.0]}}, "y": {"field": "v", "type": "quantitative", "scale": {"type": "log", "domain": [0.000001, 0.305]}}, "text": {"field": "t"}}
},
{
"data": {"values": [{"c": 29.78, "v": 0.000716, "t": "Ct"}]},
"mark": {"type": "text", "font": "Liberation Serif", "fontSize": 20, "color": "#000000", "align": "center", "baseline": "middle"},
"encoding": {"x": {"field": "c", "type": "quantitative", "scale": {"domain": [1.15, 45.0]}}, "y": {"field": "v", "type": "quantitative", "scale": {"type": "log", "domain": [0.000001, 0.305]}}, "text": {"field": "t"}}
},
{
"data": {"values": [{"c": 1.2, "v": 0.021991, "t": "0,021991"}]},
"mark": {"type": "text", "font": "DejaVu Serif", "fontWeight": "bold", "fontSize": 22, "color": "#d0102a", "align": "left", "baseline": "alphabetic", "dy": -3},
"encoding": {"x": {"field": "c", "type": "quantitative", "scale": {"domain": [1.15, 45.0]}}, "y": {"field": "v", "type": "quantitative", "scale": {"type": "log", "domain": [0.000001, 0.305]}}, "text": {"field": "t"}}
},
{
"data": {"values": [{"c": -7.62, "v": 0.826, "c2": 48, "v2": 0.826}, {"c": -7.62, "v": 0.826, "c2": -7.62, "v2": 0.00000001}]},
"mark": {"type": "rule", "color": "#000000", "strokeWidth": 3, "clip": false},
"encoding": {"x": {"field": "c", "type": "quantitative", "scale": {"domain": [1.15, 45.0]}}, "x2": {"field": "c2"}, "y": {"field": "v", "type": "quantitative", "scale": {"type": "log", "domain": [0.000001, 0.305]}}, "y2": {"field": "v2"}}
}
]
}
